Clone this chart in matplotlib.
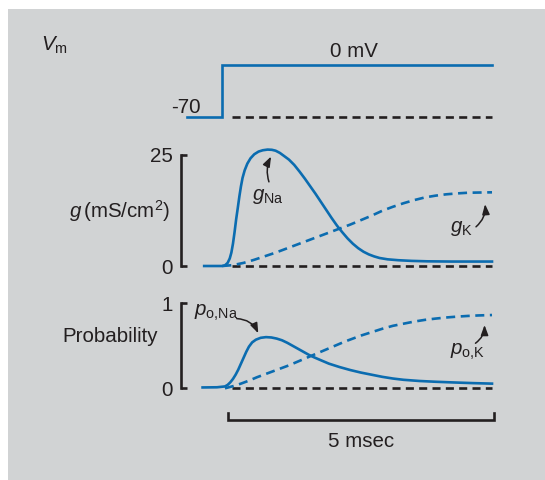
import matplotlib
matplotlib.use("Agg")
import matplotlib.pyplot as plt
from matplotlib.patches import Rectangle

# ---- data (time in ms after the voltage step) ----
t_vm = [-0.67, 0.0, 0.0, 5.06]
vm = [-70, -70, 0, 0]
vm_hold = -70

t_gna = [-0.34, 0.00, 0.05, 0.10, 0.14, 0.17, 0.20, 0.23, 0.26, 0.29, 0.32, 0.35,
         0.38, 0.42, 0.47, 0.53, 0.60, 0.68, 0.76, 0.85, 0.93, 1.00, 1.08, 1.16,
         1.25, 1.35, 1.45, 1.55, 1.65, 1.75, 1.85, 1.95, 2.05, 2.15, 2.25, 2.35,
         2.45, 2.55, 2.65, 2.75, 2.85, 2.95, 3.10, 3.30, 3.55, 3.85, 4.30, 4.80, 5.06]
g_na = [0.0, 0.0, 0.15, 0.7, 1.7, 3.0, 5.0, 7.6, 10.5, 13.0, 15.6, 17.9,
        19.8, 21.5, 23.0, 24.2, 25.1, 25.7, 26.0, 26.15, 26.1, 25.9, 25.4, 24.7,
        23.9, 22.7, 21.2, 19.6, 17.9, 16.2, 14.4, 12.6, 10.8, 9.1, 7.6, 6.2,
        5.0, 4.0, 3.2, 2.6, 2.15, 1.8, 1.5, 1.3, 1.15, 1.05, 1.0, 1.0, 1.0]

t_gk = [0.0, 0.2, 0.4, 0.6, 0.8, 1.0, 1.2, 1.4, 1.6, 1.8, 2.0, 2.2, 2.4,
        2.6, 2.8, 3.0, 3.2, 3.4, 3.6, 3.8, 4.0, 4.2, 4.4, 4.6, 4.8, 5.06]
g_k = [0.0, 0.2, 0.7, 1.4, 2.2, 3.0, 3.9, 4.8, 5.7, 6.6, 7.5, 8.4, 9.3,
       10.3, 11.3, 12.4, 13.3, 14.1, 14.8, 15.4, 15.8, 16.1, 16.3, 16.45, 16.5, 16.55]

t_pna = [-0.37, -0.10, 0.05, 0.10, 0.15, 0.20, 0.25, 0.30, 0.35, 0.40, 0.45, 0.50,
         0.56, 0.63, 0.72, 0.82, 0.92, 1.02, 1.12, 1.22, 1.32, 1.42, 1.52, 1.62,
         1.72, 1.85, 2.00, 2.20, 2.40, 2.60, 2.80, 3.00, 3.20, 3.40, 3.70, 4.00,
         4.33, 4.70, 5.06]
p_na = [0.01, 0.012, 0.022, 0.04, 0.07, 0.11, 0.16, 0.22, 0.29, 0.36, 0.43, 0.49,
        0.54, 0.572, 0.594, 0.602, 0.598, 0.585, 0.565, 0.535, 0.50, 0.465, 0.43, 0.395,
        0.365, 0.33, 0.29, 0.25, 0.215, 0.185, 0.16, 0.135, 0.115, 0.10, 0.086, 0.077,
        0.069, 0.061, 0.055]

t_pk = [0.05, 0.20, 0.35, 0.50, 0.65, 0.80, 0.95, 1.10, 1.25, 1.40, 1.55, 1.70,
        1.85, 2.00, 2.15, 2.30, 2.45, 2.60, 2.80, 3.00, 3.20, 3.40, 3.60, 3.80,
        4.00, 4.20, 4.40, 4.60, 4.80, 5.06]
p_k = [0.0, 0.025, 0.055, 0.09, 0.13, 0.165, 0.20, 0.235, 0.27, 0.31, 0.35, 0.39,
       0.43, 0.47, 0.51, 0.55, 0.585, 0.62, 0.66, 0.70, 0.735, 0.76, 0.785, 0.805,
       0.82, 0.833, 0.843, 0.851, 0.857, 0.862]

g_ticks = [0, 25]
p_ticks = [0, 1]
t_end = 5.06
scale_bar_ms = [0.1, 5.1]

# ---- style ----
W, H, DPI = 545, 480, 100
BLUE = "#0b6cb0"
INK = "#231f20"
PANEL = "#d1d3d4"
LW = 1.9
FS = 14.8

plt.rcParams["font.family"] = ["Liberation Sans", "DejaVu Sans"]
plt.rcParams["mathtext.fontset"] = "custom"
plt.rcParams["mathtext.rm"] = "Liberation Sans"
plt.rcParams["mathtext.it"] = "Liberation Sans:italic"
plt.rcParams["lines.scale_dashes"] = False

fig = plt.figure(figsize=(W / DPI, H / DPI), dpi=DPI, facecolor="white")
fig.add_artist(Rectangle((8 / W, 0), 1, 1 - 9 / H, transform=fig.transFigure,
                         facecolor=PANEL, edgecolor="none", zorder=0))

T0_PX, PX_PER_MS = 222.3, 53.3


def fx(px):
    return px / W


def fy(py):
    return 1 - py / H


def panel(top, bottom, val_a, px_a, val_b, px_b):
    ax = fig.add_axes([0, fy(bottom), 1, (bottom - top) / H])
    per_px = (val_b - val_a) / (px_a - px_b)
    ax.set_ylim(val_a - (bottom - px_a) * per_px, val_a + (px_a - top) * per_px)
    ax.set_xlim(-T0_PX / PX_PER_MS, (W - T0_PX) / PX_PER_MS)
    ax.patch.set_visible(False)
    for s in ax.spines.values():
        s.set_visible(False)
    ax.set_xticks([])
    ax.set_yticks([])
    return ax


def bracket(ax, ticks):
    sp = ax.spines["left"]
    sp.set_visible(True)
    sp.set_position(("data", (180.7 - T0_PX) / PX_PER_MS))
    sp.set_bounds(ticks[0], ticks[-1])
    sp.set_linewidth(LW)
    sp.set_color(INK)
    ax.set_yticks(ticks)
    ax.set_yticklabels([str(v) for v in ticks])
    ax.tick_params(axis="y", direction="in", length=4.4, width=LW, pad=5.6,
                   colors=INK, labelsize=FS)


dash_k = (0, (5.8, 3.8))
dash_b = (0, (6.5, 4.0))
arrow = dict(arrowstyle="-|>,head_length=0.6,head_width=0.22", color=INK,
             lw=1.1, shrinkA=0, shrinkB=0, mutation_scale=10)

# ---- membrane voltage step ----
ax1 = panel(0, 135, -70, 116.7, 0, 64.7)
ax1.plot(t_vm, vm, color=BLUE, lw=LW, solid_joinstyle="miter", clip_on=False)
ax1.hlines(vm_hold, 0.19, t_end, color=INK, lw=LW, linestyles=[dash_k])
fig.text(fx(41), fy(51), r"$V_{\mathrm{m}}$", fontsize=FS, color=INK,
         ha="left", va="baseline")
fig.text(fx(353.7), fy(56.7), "0 mV", fontsize=FS, color=INK,
         ha="center", va="baseline")
fig.text(fx(201), fy(113.3), "-70", fontsize=FS, color=INK,
         ha="right", va="baseline")

# ---- conductances ----
ax2 = panel(135, 280, 0, 266.0, 25, 154.7)
bracket(ax2, g_ticks)
ax2.hlines(0, 0.18, t_end, color=INK, lw=LW, linestyles=[dash_k])
ax2.plot(t_gna, g_na, color=BLUE, lw=LW, clip_on=False)
ax2.plot(t_gk, g_k, color=BLUE, lw=LW, linestyle=dash_b, clip_on=False)
fig.text(fx(170), fy(218), r"$g\,$(mS/cm$^{2}$)", fontsize=FS, color=INK,
         ha="right", va="baseline")
ax2.text(0.86, 14.8, r"$g_{\mathrm{Na}}$", fontsize=FS, color=INK,
         ha="center", va="baseline")
ax2.annotate("", xy=(0.915, 24.6), xytext=(0.875, 18.9),
             arrowprops=dict(arrow, connectionstyle="arc3,rad=-0.2"))
ax2.text(4.48, 7.7, r"$g_{\mathrm{K}}$", fontsize=FS, color=INK,
         ha="center", va="baseline")
ax2.annotate("", xy=(4.93, 13.9), xytext=(4.76, 8.8),
             arrowprops=dict(arrow, connectionstyle="arc3,rad=0.25"))

# ---- open probabilities ----
ax3 = panel(280, 480, 0, 388.3, 1, 303.3)
bracket(ax3, p_ticks)
ax3.hlines(0, 0.18, t_end, color=INK, lw=LW, linestyles=[dash_k])
ax3.plot(t_pna, p_na, color=BLUE, lw=LW, clip_on=False)
ax3.plot(t_pk, p_k, color=BLUE, lw=LW, linestyle=dash_b, clip_on=False)
fig.text(fx(158), fy(341.5), "Probability", fontsize=FS, color=INK,
         ha="right", va="baseline")
ax3.text(-0.53, 0.854, r"$p_{\mathrm{o{,}Na}}$", fontsize=FS, color=INK,
         ha="left", va="baseline")
ax3.annotate("", xy=(0.675, 0.647), xytext=(0.27, 0.82),
             arrowprops=dict(arrow, connectionstyle="arc3,rad=-0.3"))
ax3.text(4.27, 0.39, r"$p_{\mathrm{o{,}K}}$", fontsize=FS, color=INK,
         ha="left", va="baseline")
ax3.annotate("", xy=(4.92, 0.745), xytext=(4.75, 0.53),
             arrowprops=dict(arrow, connectionstyle="arc3,rad=0.25"))

# time scale bar
bar_y, tick_y = -0.373, -0.287
ax3.plot([scale_bar_ms[0], scale_bar_ms[0], scale_bar_ms[1], scale_bar_ms[1]],
         [tick_y, bar_y, bar_y, tick_y], color=INK, lw=LW,
         solid_joinstyle="miter", clip_on=False)
ax3.text(sum(scale_bar_ms) / 2, -0.685, "%g msec" % (scale_bar_ms[1] - scale_bar_ms[0]),
         fontsize=FS, color=INK, ha="center", va="baseline")

fig.savefig("out.png", dpi=DPI, facecolor="white")
